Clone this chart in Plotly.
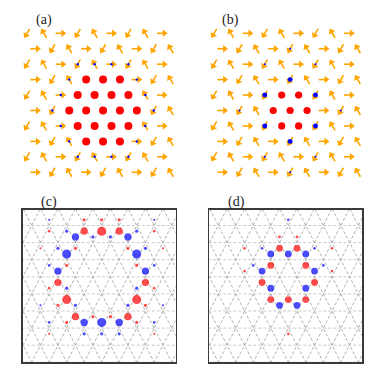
import math
import plotly.graph_objects as go

W, H = 374, 369

# ---------------- panels (a), (b): spins on a triangular lattice ----------------
N_ROWS, N_COLS = 10, 9          # rows 1..10 (top to bottom), columns 0..8
SUB_ANGLE = [240, 120, 0]       # in-plane direction of the three sublattices (deg)

# sites whose spin points out of plane (red) and weakly into the plane (blue); (row, col)
a_red = [(4, 3), (4, 4), (4, 5), (5, 3), (5, 4), (5, 5), (5, 6),
         (6, 2), (6, 3), (6, 4), (6, 5), (6, 6), (7, 3), (7, 4), (7, 5), (7, 6),
         (8, 3), (8, 4), (8, 5)]
a_blue = [(3, 3), (3, 4), (3, 5), (3, 6), (4, 2), (4, 6), (5, 2), (5, 7), (6, 1), (6, 7),
          (7, 2), (7, 7), (8, 2), (8, 6), (9, 3), (9, 4), (9, 5), (9, 6)]
a_red_val, a_blue_val = 1.0, 0.3

b_red = [(5, 4), (5, 5), (6, 3), (6, 4), (6, 5), (7, 4), (7, 5)]
b_blue = [(4, 4), (5, 3), (5, 6), (7, 3), (7, 6), (8, 4)]
b_blue_small = [(2, 4), (3, 3), (3, 6), (6, 1), (6, 7), (9, 3), (9, 6), (10, 4)]
b_red_val, b_blue_val, b_blue_small_val = 0.9, 0.62, 0.25

# ---------------- panels (c), (d): chirality on triangles ----------------
# sub: 'A' = triangle in upper part of a strip, 'B' = lower part; row = strip index, col = lattice column
c_sub = (['A'] * 7 + ['B'] * 4 + ['B'] * 2 + ['B'] * 2 + ['A'] * 2 + ['A'] * 2 + ['A'] * 4 + ['B'] * 7
         + ['B'] * 5 + ['A'] * 5 + ['A'] * 6 + ['B'] * 6 + ['A'] * 4 + ['B'] * 4)
c_row = ([0] * 7 + [0] * 4 + [1] * 2 + [2] * 2 + [3] * 2 + [4] * 2 + [5] * 4 + [5] * 7
         + [-1] * 5 + [6] * 5 + [1] * 6 + [4] * 6 + [2] * 4 + [3] * 4)
c_col = ([3, 4, 5, 2, 6, 1, 7] + [2.5, 5.5, 3.5, 4.5] + [2, 6] + [1.5, 6.5] + [1.5, 6.5] + [2, 6]
         + [2.5, 5.5, 3.5, 4.5] + [3, 4, 5, 2, 6, 1, 7]
         + [3, 4, 5, 1, 7] + [3, 4, 5, 1, 7] + [2.5, 5.5, 1.5, 6.5, 0.5, 7.5] + [2.5, 5.5, 1.5, 6.5, 0.5, 7.5]
         + [2, 6, 1, 7] + [2, 6, 1, 7])
c_val = ([0.8, 1.0, 0.8, -0.35, -0.35, 0.3, 0.3] + [-0.8, -0.8, -0.35, -0.35] + [-1.0, -1.0] + [-0.8, -0.8]
         + [0.8, 0.8] + [1.0, 1.0] + [0.8, 0.8, 0.35, 0.35] + [-0.8, -1.0, -0.8, 0.35, 0.35, -0.3, -0.3]
         + [0.35, 0.35, 0.35, -0.25, -0.25] + [-0.35, -0.35, -0.35, 0.25, 0.25]
         + [0.35, 0.35, -0.35, -0.35, 0.25, 0.25] + [-0.35, -0.35, 0.35, 0.35, -0.25, -0.25]
         + [0.35, 0.35, -0.3, -0.3] + [-0.35, -0.35, 0.3, 0.3])

d_sub = (['A'] * 2 + ['B'] * 3 + ['A'] * 2 + ['B'] * 2 + ['A'] * 2 + ['B'] * 2 + ['A'] * 3 + ['B'] * 2
         + ['B', 'B', 'B', 'A', 'A', 'A', 'A', 'B', 'B', 'A', 'A', 'A'])
d_row = ([1] * 2 + [1] * 3 + [2] * 2 + [2] * 2 + [3] * 2 + [3] * 2 + [4] * 3 + [4] * 2
         + [-1, 0, 0, 1, 1, 1, 1, 2, 2, 2, 2, 6])
d_col = ([3.5, 4.5] + [3, 4, 5] + [3, 5] + [2.5, 5.5] + [2.5, 5.5] + [3, 5] + [3, 4, 5] + [3.5, 4.5]
         + [4, 3.5, 4.5, 2.5, 5.5, 1.5, 6.5, 1.5, 6.5, 2, 6, 4])
d_val = ([0.75] * 2 + [-0.75] * 3 + [0.75] * 2 + [-0.75] * 2 + [0.75] * 2 + [-0.75] * 2 + [0.75] * 3 + [-0.75] * 2
         + [-0.3, 0.3, 0.3, -0.3, -0.3, 0.3, 0.3, 0.3, 0.3, -0.3, -0.3, 0.3])

PANEL_LABELS = ['(a)', '(b)', '(c)', '(d)']

# ---------------- layout geometry (pixels) ----------------
def dom_x(p0, p1):
    return [p0 / W, p1 / W]

def dom_y(p0, p1):      # p0 = top pixel, p1 = bottom pixel
    return [1 - p1 / H, 1 - p0 / H]

fig = go.Figure()

ORANGE = '#FFA500'
RED, BLUE = '#FF0000', '#0000FF'
DOT_SCALE = 9.0

spin_panels = [
    dict(xa='x', ya='y', red=a_red, blue=[(a_blue, a_blue_val)], redv=a_red_val,
         px=(10, 182)),
    dict(xa='x2', ya='y2', red=b_red, blue=[(b_blue, b_blue_val), (b_blue_small, b_blue_small_val)],
         redv=b_red_val, px=(197.1, 369.1)),
]
xr_spin = [-1.006, 9.172]
py_spin = (22, 185)
yr_spin = [9.825, -0.732]
sx = (spin_panels[0]['px'][1] - spin_panels[0]['px'][0]) / (xr_spin[1] - xr_spin[0])
sy = (py_spin[1] - py_spin[0]) / (yr_spin[0] - yr_spin[1])

def sxy(r, m):
    return m + 0.5 * (r % 2 == 0), r - 1

TAIL, SHAFT_END, HEAD_C = 5.2, 1.5, 2.2   # pixels along the spin direction
for P in spin_panels:
    red_set = set(P['red'])
    shx, shy, hx, hy, hang = [], [], [], [], []
    for r in range(1, N_ROWS + 1):
        for m in range(N_COLS):
            if (r, m) in red_set:
                continue
            ang = SUB_ANGLE[(m + 2 * (r % 2 == 0)) % 3]
            c, s = math.cos(math.radians(ang)), math.sin(math.radians(ang))
            x, y = sxy(r, m)
            shx += [x - TAIL * c / sx, x + SHAFT_END * c / sx, None]
            shy += [y + TAIL * s / sy, y - SHAFT_END * s / sy, None]
            hx.append(x + HEAD_C * c / sx)
            hy.append(y - HEAD_C * s / sy)
            hang.append(90 - ang)
    fig.add_trace(go.Scatter(x=shx, y=shy, xaxis=P['xa'], yaxis=P['ya'], mode='lines',
                             line=dict(color=ORANGE, width=1.6), hoverinfo='skip', showlegend=False))
    fig.add_trace(go.Scatter(x=hx, y=hy, xaxis=P['xa'], yaxis=P['ya'], mode='markers',
                             marker=dict(symbol='triangle-up', size=6.5, angle=hang, color=ORANGE,
                                         line=dict(width=0)),
                             hoverinfo='skip', showlegend=False))
    for lst, v in P['blue']:
        xs = [sxy(r, m)[0] for r, m in lst]
        ys = [sxy(r, m)[1] for r, m in lst]
        fig.add_trace(go.Scatter(x=xs, y=ys, xaxis=P['xa'], yaxis=P['ya'], mode='markers',
                                 marker=dict(color=BLUE, size=8 * v, line=dict(width=0)),
                                 hoverinfo='skip', showlegend=False))
    xs = [sxy(r, m)[0] for r, m in P['red']]
    ys = [sxy(r, m)[1] for r, m in P['red']]
    fig.add_trace(go.Scatter(x=xs, y=ys, xaxis=P['xa'], yaxis=P['ya'], mode='markers',
                             marker=dict(color=RED, size=8 * P['redv'], line=dict(width=0)),
                             hoverinfo='skip', showlegend=False))

# chirality panels
chi_panels = [
    dict(xa='x3', ya='y3', sub=c_sub, row=c_row, col=c_col, val=c_val, xd=dom_x(22.7, 175.5)),
    dict(xa='x4', ya='y4', sub=d_sub, row=d_row, col=d_col, val=d_val, xd=dom_x(209.3, 362.1)),
]
yd_chi = dom_y(209.7, 362.3)
xr_chi = [-0.514, 8.217]
yr_chi = [8.0, -0.924]

for P in chi_panels:
    lx, ly = [], []
    for c0 in range(-6, 14):
        for sgn in (1, -1):
            lx += [c0 + sgn * 0.5 * (-2), c0 + sgn * 0.5 * 10, None]
            ly += [-2, 10, None]
    fig.add_trace(go.Scatter(x=lx, y=ly, xaxis=P['xa'], yaxis=P['ya'], mode='lines',
                             line=dict(color='#9a9a9a', width=0.8, dash='3px,2px'),
                             hoverinfo='skip', showlegend=False))
    hx, hy = [], []
    for k in range(-1, 9):
        hx += [-2, 10, None]
        hy += [k, k, None]
    fig.add_trace(go.Scatter(x=hx, y=hy, xaxis=P['xa'], yaxis=P['ya'], mode='lines',
                             line=dict(color='#bdbdbd', width=0.8, dash='3px,2px'),
                             hoverinfo='skip', showlegend=False))
    xs = list(P['col'])
    ys = [k + (1 / 3 if s == 'A' else 2 / 3) for s, k in zip(P['sub'], P['row'])]
    cols = [RED if v > 0 else BLUE for v in P['val']]
    sizes = [DOT_SCALE * abs(v) for v in P['val']]
    fig.add_trace(go.Scatter(x=xs, y=ys, xaxis=P['xa'], yaxis=P['ya'], mode='markers',
                             marker=dict(color=cols, size=sizes, line=dict(width=0)),
                             hoverinfo='skip', showlegend=False))

ax_common = dict(showgrid=False, zeroline=False, showticklabels=False, ticks='', fixedrange=True)
box = dict(showline=True, mirror=True, linecolor='#3a3a3a', linewidth=1.5)
layout = dict(width=W, height=H, margin=dict(l=0, r=0, t=0, b=0),
              paper_bgcolor='white', plot_bgcolor='white', showlegend=False)
for i, P in enumerate(spin_panels):
    sfx = '' if i == 0 else str(i + 1)
    layout['xaxis' + sfx] = dict(domain=dom_x(*P['px']), range=xr_spin, anchor='y' + sfx,
                                 showline=False, **ax_common)
    layout['yaxis' + sfx] = dict(domain=dom_y(*py_spin), range=yr_spin, anchor='x' + sfx,
                                 showline=False, **ax_common)
for i, P in enumerate(chi_panels):
    sfx = str(i + 3)
    layout['xaxis' + sfx] = dict(domain=P['xd'], range=xr_chi, anchor='y' + sfx, **box, **ax_common)
    layout['yaxis' + sfx] = dict(domain=yd_chi, range=yr_chi, anchor='x' + sfx, **box, **ax_common)

ann = []
label_pos = [(43.5, 20), (230, 20), (48.5, 202), (236, 202)]
for t, (px, py) in zip(PANEL_LABELS, label_pos):
    ann.append(dict(x=px / W, y=1 - py / H, xref='paper', yref='paper', text=t, showarrow=False,
                    font=dict(family='Liberation Serif', size=14, color='#222'),
                    xanchor='center', yanchor='middle'))
layout['annotations'] = ann
fig.update_layout(**layout)
fig.write_html('out.html', config={'displayModeBar': False, 'staticPlot': True},
               post_script="document.body.style.margin='0';document.body.style.overflow='hidden';")
